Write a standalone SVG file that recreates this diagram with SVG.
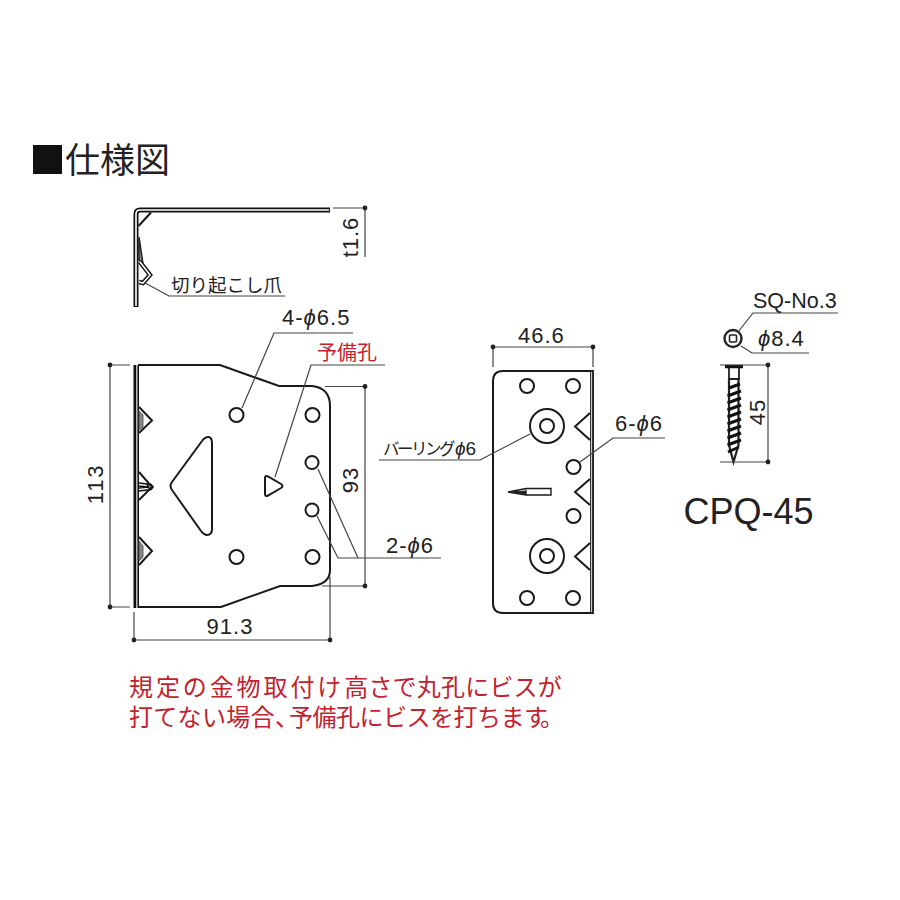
<svg xmlns="http://www.w3.org/2000/svg" width="900" height="900" viewBox="0 0 900 900">
<style>
text{font-family:"Liberation Sans","Noto Sans CJK JP",sans-serif;fill:#222}
.jp{font-family:"Noto Sans CJK JP",sans-serif;font-weight:400}
.d{font-size:22px;letter-spacing:1px}
.ph{font-style:italic}
.lat{font-family:"Liberation Sans",sans-serif;letter-spacing:0}
.dim{fill:none;stroke:#444;stroke-width:1.2}
.part{fill:none;stroke:#1a1a1a;stroke-width:2}
.thin{fill:none;stroke:#1a1a1a;stroke-width:1.4}
.red{font-weight:400}
.dot{fill:#222}
</style>
<rect width="900" height="900" fill="#fff"/>
<g id="title"><rect x="33" y="145" width="29" height="29" fill="#111"/><text x="65" y="173" class="jp" font-size="35">仕様図</text></g>

<g id="side-view">
<path d="M136,307V214Q136,210 140,210H330" fill="none" stroke="#111" stroke-width="5"/>
<path d="M136,306V214Q136,210 140,210H329" fill="none" stroke="#fff" stroke-width="1.600"/>
<path d="M138.500,226L151,212.500" class="part"/>
<path d="M139,237L142,257L143,264L139,260Z" fill="#888" stroke="#222" stroke-width="1.500"/>
<path d="M140,262L150,275L143,283L139,282" fill="none" stroke="#111" stroke-width="4.500"/>
<path d="M140,262L150,275L143,283L139,282" fill="none" stroke="#fff" stroke-width="1.600"/>
</g>

<g id="front-plate">
<path d="M138,365H220L279,386H312Q330,388 330,406V570Q330,584 312,586H280L221,607H138" class="part"/>
<rect x="133.500" y="365" width="2.800" height="243" fill="#111"/><rect x="137.400" y="365" width="1.600" height="243" fill="#111"/>
<path d="M139,407L152,420.500L139,433M139,472L152,487L139,500M139,537L152,551L139,565" class="part"/>
<path d="M139,411L143,415V427L139,430ZM139,541L143,546V557L139,561Z" fill="#888" stroke="#444" stroke-width="0.800"/>
<path d="M139,483L151,484.500L153,487L151,489.500L139,491M139,486L148,487L139,488M147,484L150,490" fill="none" stroke="#111" stroke-width="1.700"/>
<path d="M172,482L202,441Q205,436.500 209,437Q212,438 212,443V529Q212,535 207,535Q204,535 201,531L172,490Q169,486 172,482Z" class="part"/>
<path d="M265,478Q265,475 268,476.500L281,484Q284,486 281,488L268,495.500Q265,497 265,494Z" class="part"/>
<circle cx="236.500" cy="415" r="7" class="part"/><circle cx="312.500" cy="415" r="7" class="part"/>
<circle cx="312" cy="462.500" r="6.500" class="part"/><circle cx="312" cy="510" r="6.500" class="part"/>
<circle cx="312.500" cy="557" r="7" class="part"/><circle cx="236.500" cy="557" r="7" class="part"/>
</g>

<g id="back-plate">
<path d="M593,371H503Q493,371 493,381V603Q493,613 503,613H593Z" class="part"/>
<rect x="590" y="371" width="3.500" height="242" fill="#333"/><rect x="591" y="372" width="1" height="240" fill="#ccc"/>
<path d="M590,413L575,426.500L590,440M590,479L575,492L590,505M590,543L575,556.500L590,570" class="part"/>
<circle cx="527" cy="386" r="7" class="part"/><circle cx="573" cy="386" r="7" class="part"/>
<circle cx="527" cy="598" r="7" class="part"/><circle cx="573" cy="598" r="7" class="part"/>
<circle cx="573.500" cy="467" r="7" class="part"/><circle cx="573.500" cy="516" r="7" class="part"/>
<circle cx="547" cy="426" r="17" class="part"/><circle cx="547" cy="426" r="7" class="part"/>
<circle cx="547" cy="556" r="17" class="part"/><circle cx="547" cy="556" r="7" class="part"/>
<path d="M508,492L526,488.500H551V495H526Z" class="thin"/><path d="M526,488.500V495M508,492L526,491V494Z" fill="#222" stroke="#222"/>
</g>

<g id="screw">
<circle cx="733" cy="338.500" r="8.500" fill="none" stroke="#222" stroke-width="2.400"/><rect x="729.500" y="335" width="7" height="7" rx="1" fill="none" stroke="#222" stroke-width="1.600"/>
<path d="M725,366.500H743" fill="none" stroke="#111" stroke-width="3.500"/>
<path d="M729,368V379H739V368" fill="none" stroke="#222" stroke-width="1.800"/>
<path d="M729,379V445L733.500,462L738.500,445V379Z" fill="#fff" stroke="#222" stroke-width="2.200"/>
<path d="M729,388L740,384M727.500,396L741,391M727.500,403L741,398M727.500,410L741,405M727.500,417L741,412M727.500,424L741,419M727.500,431L741,426M727.500,438L741,433M727.500,445L741,440M728,452L739,447" fill="none" stroke="#111" stroke-width="3"/>
</g>

<g id="connectors">
<path d="M333,208H365V257" class="dim"/><circle cx="365" cy="208" r="2.400" class="dot"/>
<path d="M130,365H110V607H130" class="dim"/><circle cx="110" cy="365" r="2.400" class="dot"/><circle cx="110" cy="607" r="2.400" class="dot"/>
<path d="M325,386.500H365V586H322" class="dim"/><circle cx="365" cy="386.500" r="2.400" class="dot"/><circle cx="365" cy="586" r="2.400" class="dot"/>
<path d="M134,612V640H330V577" class="dim"/><circle cx="134" cy="640" r="2.400" class="dot"/><circle cx="330" cy="640" r="2.400" class="dot"/>
<path d="M493,367V347H593V367" class="dim"/><circle cx="493" cy="347" r="2.400" class="dot"/><circle cx="593" cy="347" r="2.400" class="dot"/>
<path d="M720,365H768V462H720" class="dim"/><circle cx="768" cy="365" r="2.400" class="dot"/><circle cx="768" cy="462" r="2.400" class="dot"/>
<path d="M145,283L169,296H285" class="dim"/>
<path d="M353,333H274L242,408" class="dim"/>
<path d="M385,365H311L275,477" class="dim"/>
<path d="M318,469L358,558M317,516L338,558H441" class="dim"/>
<path d="M379,460H480L530,434" class="dim"/>
<path d="M665,438H613L580,462" class="dim"/>
<path d="M738,332L753,313H838" class="dim"/>
<path d="M741,346L752,353H809" class="dim"/>
</g>

<g id="labels">
<text x="171" y="292" class="jp" font-size="18.500">切り起こし爪</text>
<text x="358" y="237" class="d" text-anchor="middle" transform="rotate(-90 358 237)">t1.6</text>
<text x="282" y="325" class="d">4-<tspan class="ph">ϕ</tspan>6.5</text>
<text x="317" y="360" class="jp red" font-size="20" style="fill:#c3222c">予備孔</text>
<text x="103" y="484" class="d" text-anchor="middle" transform="rotate(-90 103 484)" style="letter-spacing:1.800px">113</text>
<text x="358" y="480" class="d" text-anchor="middle" transform="rotate(-90 358 480)">93</text>
<text x="230" y="634" class="d" text-anchor="middle">91.3</text>
<text x="386" y="553" class="d">2-<tspan class="ph">ϕ</tspan>6</text>
<text x="518" y="343" class="d">46.6</text>
<text x="383" y="455" class="jp" font-size="16.500" style="letter-spacing:-2.500px">バーリング<tspan class="ph lat" font-size="19" dx="2">ϕ</tspan><tspan class="lat" font-size="19">6</tspan></text>
<text x="615" y="431" class="d">6-<tspan class="ph">ϕ</tspan>6</text>
<text x="753" y="308" font-size="21.500">SQ-No.3</text>
<text x="758" y="346" class="d"><tspan class="ph">ϕ</tspan>8.4</text>
<text x="765" y="412" class="d" text-anchor="middle" transform="rotate(-90 765 412)">45</text>
<text x="748.500" y="524" font-size="36" text-anchor="middle">CPQ-45</text>
<text class="jp red" y="696" font-size="24" style="fill:#c3222c" x="129 155.900 182.800 209.700 236.600 263.500 290.400 317.300 344.200 368.400 392.600 416.800 441 465.200 489.400 513.600 537.800">規定の金物取付け高さで丸孔にビスが</text>
<text class="jp red" y="726" font-size="24" style="fill:#c3222c" x="129 153.300 177.600 201.900 226.200 250.500 275 289 312.500 336 359.500 383 406.500 430 453.500 477 500.500 524 540">打てない場合、予備孔にビスを打ちます。</text>
</g>
</svg>
